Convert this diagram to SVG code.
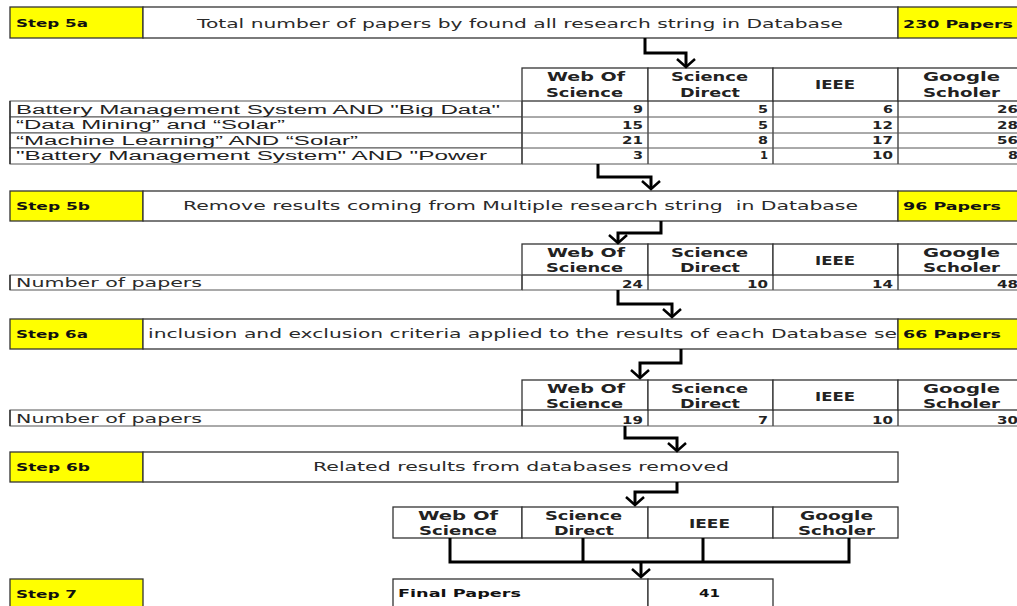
<svg xmlns="http://www.w3.org/2000/svg" width="1017" height="606" viewBox="0 0 1017 606">
<style>
.bg{fill:#fff}
.y{fill:#ffff00;stroke:#333;stroke-width:1.3}
.w{fill:#fff;stroke:#333;stroke-width:1.3}
.row{fill:#fff;stroke:#555;stroke-width:1}
.lbl{font-family:"DejaVu Sans",sans-serif;font-weight:bold;font-size:11px;fill:#111}
.desc{font-family:"DejaVu Sans",sans-serif;font-size:12.5px;fill:#2a2a2a}
.hd{font-family:"DejaVu Sans",sans-serif;font-weight:bold;font-size:11.8px;fill:#222}
.num{font-family:"DejaVu Sans",sans-serif;font-weight:bold;font-size:10.5px;fill:#222}
.ar{font-family:"Liberation Sans",Arial,sans-serif;font-size:12.5px;fill:#222}
.np{font-family:"DejaVu Sans",sans-serif;font-size:12px;fill:#2a2a2a}
.cn{fill:none;stroke:#000;stroke-width:3}
</style>
<defs>
<marker id="ah" viewBox="0 0 20 20" refX="10" refY="10" markerWidth="20" markerHeight="20" markerUnits="userSpaceOnUse" orient="auto">
<path d="M2,1 L10,10 L2,19" fill="none" stroke="#000" stroke-width="2.5"/>
</marker>
</defs>
<rect class="bg" x="0" y="0" width="1017" height="606"/>

<g id="step5a">
<rect class="y" x="10" y="7" width="133" height="31"/>
<rect class="w" x="143" y="7" width="755" height="31"/>
<rect class="y" x="898" y="7" width="130" height="31"/>
<text class="lbl" x="16" y="27" textLength="72" lengthAdjust="spacingAndGlyphs">Step 5a</text>
<text class="desc" x="197" y="27.5" textLength="646" lengthAdjust="spacingAndGlyphs">Total number of papers by found all research string in Database</text>
<text class="lbl" x="903" y="27.5" textLength="110" lengthAdjust="spacingAndGlyphs">230 Papers</text>
</g>

<g id="table1">
<rect class="w" x="522" y="68" width="126" height="33"/>
<rect class="w" x="648" y="68" width="125" height="33"/>
<rect class="w" x="773" y="68" width="125" height="33"/>
<rect class="w" x="898" y="68" width="126" height="33"/>
<text class="hd" x="547" y="81" textLength="78" lengthAdjust="spacingAndGlyphs">Web Of</text>
<text class="hd" x="546" y="96.5" textLength="77" lengthAdjust="spacingAndGlyphs">Science</text>
<text class="hd" x="671" y="81" textLength="77" lengthAdjust="spacingAndGlyphs">Science</text>
<text class="hd" x="680" y="96.5" textLength="60" lengthAdjust="spacingAndGlyphs">Direct</text>
<text class="hd" x="815" y="89.3" textLength="40" lengthAdjust="spacingAndGlyphs">IEEE</text>
<text class="hd" x="923" y="81" textLength="77" lengthAdjust="spacingAndGlyphs">Google</text>
<text class="hd" x="923" y="96.5" textLength="77" lengthAdjust="spacingAndGlyphs">Scholer</text>

<rect class="row" x="10" y="101" width="512" height="16"/>
<rect class="row" x="10" y="117" width="512" height="16"/>
<rect class="row" x="10" y="133" width="512" height="15"/>
<rect class="row" x="10" y="148" width="512" height="16"/>
<path d="M522,101 V164 M648,101 V164 M773,101 V164 M898,101 V164" fill="none" stroke="#333" stroke-width="1.3"/>
<path d="M522,117 H1024 M522,133 H1024 M522,148 H1024 M522,164 H1024" fill="none" stroke="#555" stroke-width="1"/>
<line x1="10" y1="101" x2="10" y2="164" stroke="#333" stroke-width="1.5"/>
<text class="ar" x="16" y="113.5" textLength="484" lengthAdjust="spacingAndGlyphs">Battery Management System AND "Big Data"</text>
<text class="ar" x="16" y="129" textLength="269" lengthAdjust="spacingAndGlyphs">“Data Mining” and “Solar”</text>
<text class="ar" x="16" y="144.5" textLength="342" lengthAdjust="spacingAndGlyphs">“Machine Learning” AND “Solar”</text>
<text class="ar" x="16" y="160" textLength="471" lengthAdjust="spacingAndGlyphs">"Battery Management System" AND "Power</text>

<text class="num" x="633" y="113.3" textLength="10" lengthAdjust="spacingAndGlyphs">9</text>
<text class="num" x="758" y="113.3" textLength="10" lengthAdjust="spacingAndGlyphs">5</text>
<text class="num" x="883" y="113.3" textLength="10" lengthAdjust="spacingAndGlyphs">6</text>
<text class="num" x="997" y="113.3" textLength="21" lengthAdjust="spacingAndGlyphs">26</text>
<text class="num" x="622" y="128.5" textLength="21" lengthAdjust="spacingAndGlyphs">15</text>
<text class="num" x="758" y="128.5" textLength="10" lengthAdjust="spacingAndGlyphs">5</text>
<text class="num" x="872" y="128.5" textLength="21" lengthAdjust="spacingAndGlyphs">12</text>
<text class="num" x="997" y="128.5" textLength="21" lengthAdjust="spacingAndGlyphs">28</text>
<text class="num" x="622" y="143.7" textLength="21" lengthAdjust="spacingAndGlyphs">21</text>
<text class="num" x="758" y="143.7" textLength="10" lengthAdjust="spacingAndGlyphs">8</text>
<text class="num" x="872" y="143.7" textLength="21" lengthAdjust="spacingAndGlyphs">17</text>
<text class="num" x="997" y="143.7" textLength="21" lengthAdjust="spacingAndGlyphs">56</text>
<text class="num" x="633" y="158.7" textLength="10" lengthAdjust="spacingAndGlyphs">3</text>
<text class="num" x="760" y="158.7" textLength="8" lengthAdjust="spacingAndGlyphs">1</text>
<text class="num" x="872" y="158.7" textLength="21" lengthAdjust="spacingAndGlyphs">10</text>
<text class="num" x="1008" y="158.7" textLength="10" lengthAdjust="spacingAndGlyphs">8</text>
</g>

<g id="step5b">
<rect class="y" x="10" y="191" width="133" height="30"/>
<rect class="w" x="143" y="191" width="755" height="30"/>
<rect class="y" x="898" y="191" width="130" height="30"/>
<text class="lbl" x="16" y="210" textLength="74" lengthAdjust="spacingAndGlyphs">Step 5b</text>
<text class="desc" x="183" y="210" textLength="675" lengthAdjust="spacingAndGlyphs">Remove results coming from Multiple research string &#160;in Database</text>
<text class="lbl" x="903" y="210" textLength="98" lengthAdjust="spacingAndGlyphs">96 Papers</text>
</g>

<g id="table2">
<rect class="w" x="522" y="244" width="126" height="31"/>
<rect class="w" x="648" y="244" width="125" height="31"/>
<rect class="w" x="773" y="244" width="125" height="31"/>
<rect class="w" x="898" y="244" width="126" height="31"/>
<text class="hd" x="547" y="257" textLength="78" lengthAdjust="spacingAndGlyphs">Web Of</text>
<text class="hd" x="546" y="272.3" textLength="77" lengthAdjust="spacingAndGlyphs">Science</text>
<text class="hd" x="671" y="257" textLength="77" lengthAdjust="spacingAndGlyphs">Science</text>
<text class="hd" x="680" y="272.3" textLength="60" lengthAdjust="spacingAndGlyphs">Direct</text>
<text class="hd" x="815" y="265" textLength="40" lengthAdjust="spacingAndGlyphs">IEEE</text>
<text class="hd" x="923" y="257" textLength="77" lengthAdjust="spacingAndGlyphs">Google</text>
<text class="hd" x="923" y="272.3" textLength="77" lengthAdjust="spacingAndGlyphs">Scholer</text>
<rect class="row" x="10" y="275" width="512" height="15"/>
<path d="M522,275 V290 M648,275 V290 M773,275 V290 M898,275 V290" stroke="#333" stroke-width="1.3" fill="none"/>
<path d="M522,290 H1024" stroke="#555" stroke-width="1" fill="none"/>
<line x1="10" y1="275" x2="10" y2="290" stroke="#333" stroke-width="1.5"/>
<text class="np" x="16" y="286.8" textLength="186" lengthAdjust="spacingAndGlyphs">Number of papers</text>
<text class="num" x="622" y="287.5" textLength="21" lengthAdjust="spacingAndGlyphs">24</text>
<text class="num" x="747" y="287.5" textLength="21" lengthAdjust="spacingAndGlyphs">10</text>
<text class="num" x="872" y="287.5" textLength="21" lengthAdjust="spacingAndGlyphs">14</text>
<text class="num" x="997" y="287.5" textLength="21" lengthAdjust="spacingAndGlyphs">48</text>
</g>

<g id="step6a">
<rect class="y" x="10" y="319" width="133" height="30"/>
<rect class="w" x="143" y="319" width="755" height="30"/>
<text class="desc" x="148" y="337.5" textLength="749" lengthAdjust="spacingAndGlyphs">inclusion and exclusion criteria applied to the results of each Database se</text>
<rect class="y" x="898" y="319" width="130" height="30"/>
<text class="lbl" x="16" y="337.5" textLength="72" lengthAdjust="spacingAndGlyphs">Step 6a</text>
<text class="lbl" x="903" y="337.5" textLength="98" lengthAdjust="spacingAndGlyphs">66 Papers</text>
</g>

<g id="table3">
<rect class="w" x="522" y="380" width="126" height="30"/>
<rect class="w" x="648" y="380" width="125" height="30"/>
<rect class="w" x="773" y="380" width="125" height="30"/>
<rect class="w" x="898" y="380" width="126" height="30"/>
<text class="hd" x="547" y="392.7" textLength="78" lengthAdjust="spacingAndGlyphs">Web Of</text>
<text class="hd" x="546" y="408.3" textLength="77" lengthAdjust="spacingAndGlyphs">Science</text>
<text class="hd" x="671" y="392.7" textLength="77" lengthAdjust="spacingAndGlyphs">Science</text>
<text class="hd" x="680" y="408.3" textLength="60" lengthAdjust="spacingAndGlyphs">Direct</text>
<text class="hd" x="815" y="400.7" textLength="40" lengthAdjust="spacingAndGlyphs">IEEE</text>
<text class="hd" x="923" y="392.7" textLength="77" lengthAdjust="spacingAndGlyphs">Google</text>
<text class="hd" x="923" y="408.3" textLength="77" lengthAdjust="spacingAndGlyphs">Scholer</text>
<rect class="row" x="10" y="410" width="512" height="16"/>
<path d="M522,410 V426 M648,410 V426 M773,410 V426 M898,410 V426" stroke="#333" stroke-width="1.3" fill="none"/>
<path d="M522,426 H1024" stroke="#555" stroke-width="1" fill="none"/>
<line x1="10" y1="410" x2="10" y2="426" stroke="#333" stroke-width="1.5"/>
<text class="np" x="16" y="423" textLength="186" lengthAdjust="spacingAndGlyphs">Number of papers</text>
<text class="num" x="622" y="424" textLength="21" lengthAdjust="spacingAndGlyphs">19</text>
<text class="num" x="758" y="424" textLength="10" lengthAdjust="spacingAndGlyphs">7</text>
<text class="num" x="872" y="424" textLength="21" lengthAdjust="spacingAndGlyphs">10</text>
<text class="num" x="997" y="424" textLength="21" lengthAdjust="spacingAndGlyphs">30</text>
</g>

<g id="step6b">
<rect class="y" x="10" y="452" width="133" height="30"/>
<rect class="w" x="143" y="452" width="755" height="30"/>
<text class="lbl" x="16" y="470.5" textLength="74" lengthAdjust="spacingAndGlyphs">Step 6b</text>
<text class="desc" x="313" y="470.7" textLength="416" lengthAdjust="spacingAndGlyphs">Related results from databases removed</text>
</g>

<g id="databases">
<rect class="w" x="393" y="507" width="129" height="31"/>
<rect class="w" x="522" y="507" width="126" height="31"/>
<rect class="w" x="648" y="507" width="125" height="31"/>
<rect class="w" x="773" y="507" width="125" height="31"/>
<text class="hd" x="418" y="520" textLength="80" lengthAdjust="spacingAndGlyphs">Web Of</text>
<text class="hd" x="419" y="535.3" textLength="78" lengthAdjust="spacingAndGlyphs">Science</text>
<text class="hd" x="545" y="520" textLength="77" lengthAdjust="spacingAndGlyphs">Science</text>
<text class="hd" x="554" y="535.3" textLength="60" lengthAdjust="spacingAndGlyphs">Direct</text>
<text class="hd" x="689" y="528" textLength="41" lengthAdjust="spacingAndGlyphs">IEEE</text>
<text class="hd" x="800" y="520" textLength="73" lengthAdjust="spacingAndGlyphs">Google</text>
<text class="hd" x="798" y="535.3" textLength="77" lengthAdjust="spacingAndGlyphs">Scholer</text>
</g>

<g id="step7">
<rect class="y" x="10" y="579" width="133" height="40"/>
<text class="lbl" x="16" y="598" textLength="61" lengthAdjust="spacingAndGlyphs">Step 7</text>
</g>

<g id="final">
<rect class="w" x="393" y="579" width="255" height="40"/>
<rect class="w" x="648" y="579" width="125" height="40"/>
<text class="lbl" x="398" y="597" textLength="123" lengthAdjust="spacingAndGlyphs">Final Papers</text>
<text class="lbl" x="699" y="597" textLength="21" lengthAdjust="spacingAndGlyphs">41</text>
</g>

<g id="connectors">
<path class="cn" d="M645,38 V53 H686 V67" marker-end="url(#ah)"/>
<path class="cn" d="M598,164 V177 H651 V189" marker-end="url(#ah)"/>
<path class="cn" d="M661,221 V233 H618 V243" marker-end="url(#ah)"/>
<path class="cn" d="M618,290 V304 H672 V317" marker-end="url(#ah)"/>
<path class="cn" d="M681,349 V363 H640 V378" marker-end="url(#ah)"/>
<path class="cn" d="M625,426 V438 H677 V451" marker-end="url(#ah)"/>
<path class="cn" d="M677,482 V492 H635 V505" marker-end="url(#ah)"/>
<path class="cn" d="M450,538 V562 H849 V538 M583,538 V562 M703,538 V562"/>
<path class="cn" d="M641,562 V577" marker-end="url(#ah)"/>
</g>
</svg>
